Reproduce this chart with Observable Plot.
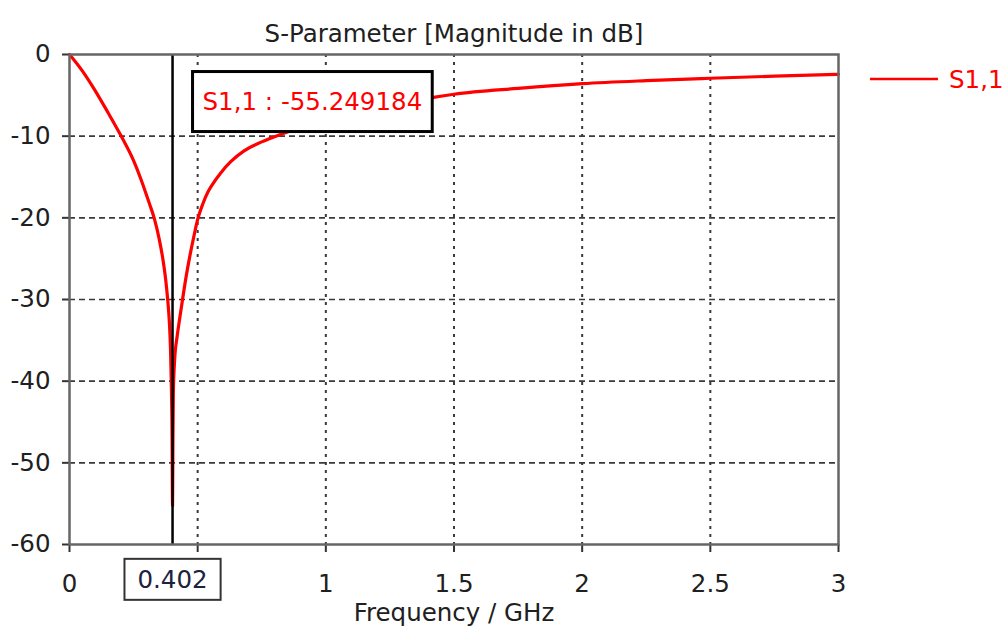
<!DOCTYPE html>
<html>
<head>
<meta charset="utf-8">
<script src="https://cdn.jsdelivr.net/npm/d3@7"></script>
<script src="https://cdn.jsdelivr.net/npm/@observablehq/plot@0.6"></script>
<style>
  html, body { margin: 0; padding: 0; background: #fff; }
  #chart { width: 1008px; height: 643px; }
</style>
</head>
<body>
<div id="chart"></div>
<script>
// S11 reflection magnitude of the port, sampled across the sweep
const freqGHz = [0, 0.05, 0.097, 0.15, 0.2, 0.25, 0.279, 0.31, 0.331, 0.35, 0.365, 0.375, 0.383, 0.39, 0.394, 0.397, 0.4, 0.402,
                 0.4035, 0.405, 0.41, 0.42, 0.43, 0.441, 0.455, 0.47, 0.485, 0.5, 0.52, 0.539, 0.56, 0.59, 0.63, 0.681, 0.75, 0.818,
                 0.9, 1.0, 1.1, 1.2, 1.3, 1.42, 1.5, 1.75, 2.0, 2.25, 2.5, 2.75, 3.0];
const s11dB   = [0, -2.0, -4.26, -7.1, -9.9, -13.0, -15.3, -18.1, -20.1, -22.6, -25.2, -27.5, -30.0, -33.0, -36.0, -40.0, -46.0, -55.249184,
                 -47.0, -41.5, -37.5, -34.5, -32.3, -30.0, -27.2, -24.6, -22.3, -20.2, -18.3, -16.9, -15.8, -14.5, -13.1, -11.8, -10.7, -9.85,
                 -9.0, -8.1, -7.3, -6.6, -5.95, -5.25, -4.87, -4.15, -3.57, -3.2, -2.91, -2.65, -2.42];

const xTicks = [0, 0.5, 1, 1.5, 2, 2.5, 3];
const xGrid = [0.5, 1, 1.5, 2, 2.5];
const yTicks = [0, -10, -20, -30, -40, -50, -60];
const yGrid = [-10, -20, -30, -40, -50];

const markerFreq = 0.402;
const markerValue = -55.249184;
const seriesName = "S1,1";
const titleText = "S-Parameter [Magnitude in dB]";
const xLabelText = "Frequency / GHz";

const FONT = "'DejaVu Sans', Verdana, sans-serif";
const FS = 24.5;
const RED = "#ff0000";
const INK = "#202020";

const rows = freqGHz.map((f, i) => ({f, db: s11dB[i]}));

const chart = Plot.plot({
  width: 1008,
  height: 643,
  marginTop: 54,
  marginLeft: 69,
  marginRight: 170,
  marginBottom: 99,
  style: {fontFamily: FONT, fontSize: FS + "px", color: INK, background: "#fff", overflow: "visible"},
  x: {domain: [0, 3]},
  y: {domain: [-60, 0]},
  marks: [
    // grid: dashed horizontals, dotted verticals
    Plot.ruleY(yGrid, {stroke: "#3a3a3a", strokeWidth: 1.6, strokeDasharray: "6,4"}),
    Plot.ruleX(xGrid, {stroke: "#3a3a3a", strokeWidth: 2, strokeDasharray: "3,5"}),
    // axes
    Plot.axisY(yTicks, {
      tickSize: 7, tickPadding: 12, fontSize: FS, fill: INK, stroke: "#333", strokeWidth: 2,
      tickFormat: d => String(d), label: null
    }),
    Plot.axisX(xTicks, {
      tickSize: 8, tickPadding: 22, fontSize: FS, fill: INK, stroke: "#333", strokeWidth: 2,
      tickFormat: d => (d === 0.5 ? "" : String(d)), label: null
    }),
    // the trace
    Plot.line(rows, {x: "f", y: "db", stroke: RED, strokeWidth: 3.2, curve: "monotone-x"}),
    // marker line at the resonance
    Plot.ruleX([markerFreq], {stroke: "#000", strokeWidth: 2.5}),
    Plot.frame({stroke: "#666", strokeWidth: 2.5}),
    // marker frequency label below the axis
    Plot.text([markerFreq], {
      x: d => d, frameAnchor: "bottom", dy: 35.5, lineAnchor: "middle",
      text: d => d.toFixed(3), fontSize: FS, fill: "#1c2240", className: "marker-freq"
    }),
    // marker readout
    Plot.text([markerValue], {
      x: () => markerFreq, frameAnchor: "top", dx: 30, dy: 47.7, lineAnchor: "middle", textAnchor: "start",
      text: d => `${seriesName} : ${d}`, fontSize: FS, fill: RED, className: "marker-readout"
    }),
    // title and axis label
    Plot.text([titleText], {frameAnchor: "top", dy: -29.5, fontSize: FS, fill: INK, text: d => d}),
    Plot.text([xLabelText], {frameAnchor: "bottom", dy: 76.5, fontSize: FS, fill: INK, text: d => d})
  ]
});

document.getElementById("chart").appendChild(chart);

const svg = d3.select(chart);

// white boxes behind the marker texts (sharing each text's transform)
function boxBehind(cls, padX, halfH, strokeW, stroke) {
  svg.select("g." + cls).selectAll("text").each(function () {
    const bb = this.getBBox();
    const cy = bb.y + bb.height / 2;
    d3.select(this.parentNode).insert("rect", () => this)
      .attr("transform", this.getAttribute("transform"))
      .attr("x", bb.x - padX)
      .attr("y", cy - halfH)
      .attr("width", bb.width + 2 * padX)
      .attr("height", 2 * halfH)
      .attr("fill", "#fff")
      .attr("stroke", stroke)
      .attr("stroke-width", strokeW);
  });
}
boxBehind("marker-readout", 10, 30, 3, "#000");
boxBehind("marker-freq", 13, 20.5, 2, "#333");

// legend entry to the right of the plot area
const xs = chart.scale("x"), ys = chart.scale("y");
const xr = xs.range[1];
const legendY = ys.apply(0) + 25;
const legend = svg.append("g").attr("text-anchor", "start");
legend.append("line")
  .attr("x1", xr + 32).attr("x2", xr + 100)
  .attr("y1", legendY).attr("y2", legendY)
  .attr("stroke", RED).attr("stroke-width", 2.5);
legend.append("text")
  .attr("x", xr + 111).attr("y", legendY).attr("dy", "0.35em")
  .attr("fill", RED).attr("font-size", FS).attr("font-family", FONT)
  .text(seriesName);
</script>
</body>
</html>
